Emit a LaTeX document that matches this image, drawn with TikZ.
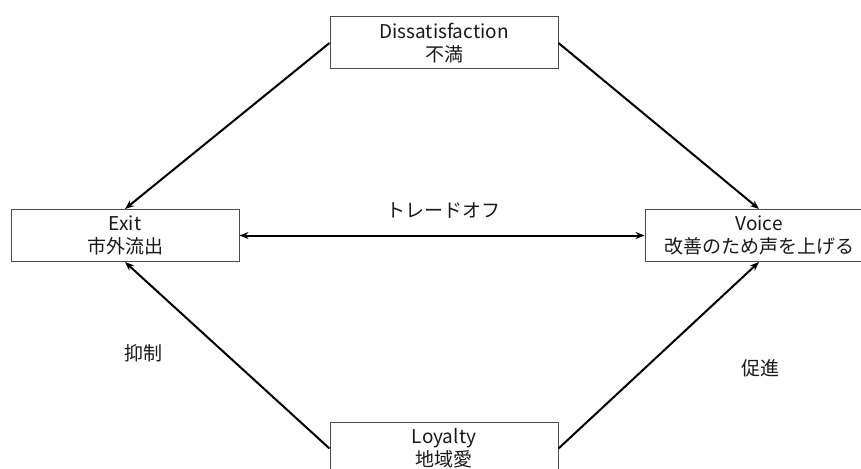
\documentclass[tikz,border=0pt]{standalone}
\usepackage{fontspec}
\setmainfont{Noto Sans CJK JP}
\usetikzlibrary {arrows.meta, positioning}

\begin{document}
\begin{tikzpicture}[x=1pt,y=-1pt,node distance=1cm,on grid,>={Stealth[length=9pt,width=7pt]},
      every node/.style={font=\fontsize{19}{23}\selectfont,text=black!90},
      factor/.style={draw=black!70,line width=1pt,minimum width=228pt,minimum height=52pt,
        align=center,inner sep=0pt},
      link/.style={->,line width=2pt}]
      \useasboundingbox (0,0) rectangle (861,468);
      \node[factor]   (dis) at (444,43) {Dissatisfaction\\不満};
      \node[factor]   (exit) [below left=192.5pt and 319pt of dis] {Exit\\市外流出};
      \node[factor]   (voice) [below right=192.5pt and 315pt of dis] {Voice\\改善のため声を上げる};
      \node[factor]   (loy) [below=405.5pt of dis] {Loyalty\\地域愛};
      \draw[link] (dis.west) -- (exit.north);
      \draw[link] (dis.east) -- (voice.north);
      \draw[link] (loy.west) -- (exit.south);
      \draw[link] (loy.east) -- (voice.south);
      \draw[link,<->] (exit.east) -- (voice.west);
      \node (trade) at (443,210) {トレードオフ};
      \node (curb) at (143,353) {抑制};
      \node (boost) at (760,368) {促進};
    \end{tikzpicture}
\end{document}
